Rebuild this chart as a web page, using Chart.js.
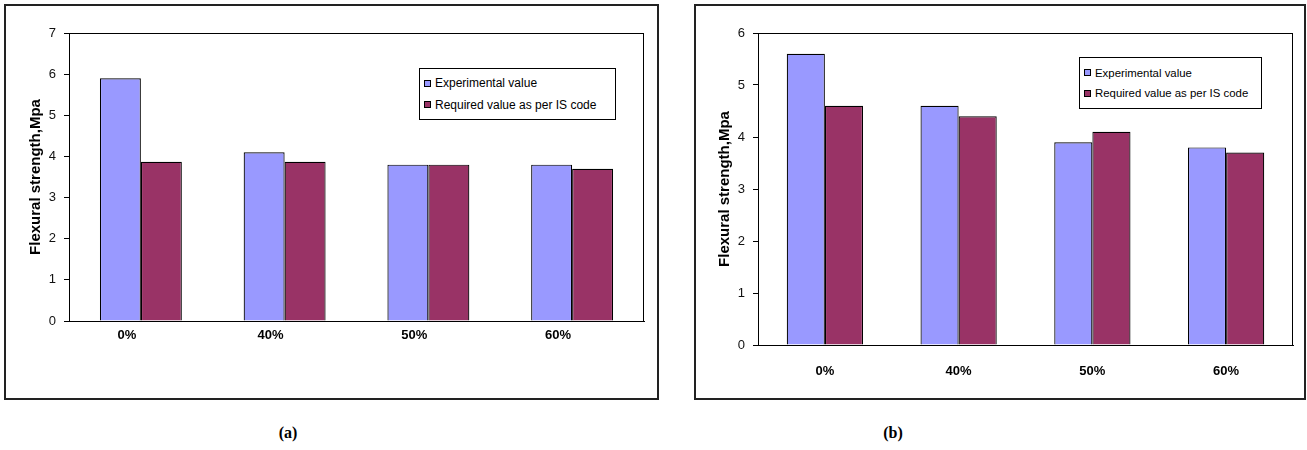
<!DOCTYPE html>
<html>
<head>
<meta charset="utf-8">
<script src="https://cdn.jsdelivr.net/npm/chart.js@4.4.1/dist/chart.umd.min.js"></script>
<style>
  body { margin: 0; background: #fff; width: 1307px; height: 450px; position: relative; overflow: hidden;
         font-family: 'Liberation Sans', Arial, sans-serif; }
  .frame { position: absolute; border: 2px solid #222; box-sizing: border-box; }
  canvas { position: absolute; }
  .legend { position: absolute; border: 1px solid #000; background: #fff; box-sizing: border-box;
            font-size: 12px; color: #000; padding: 0 4px; }
  .legend .item { display: flex; align-items: center; white-space: nowrap; }
  .legend .swatch { width: 7px; height: 7px; border: 1px solid #000; margin-right: 4px; flex: none; box-sizing: border-box; }
  .caption { position: absolute; font-family: 'Liberation Serif', 'Times New Roman', serif; font-weight: bold;
             font-size: 16px; top: 424px; transform: translateX(-50%); }
</style>
</head>
<body>
<div class="frame" style="left:4px; top:4px; width:655px; height:396px;"></div>
<div class="frame" style="left:694px; top:4px; width:612px; height:396px;"></div>
<canvas id="chart-a" width="650" height="391" style="left:6px; top:6px;"></canvas>
<canvas id="chart-b" width="606" height="391" style="left:697px; top:6px;"></canvas>
<div class="legend" id="legend-a" style="left:419px; top:68px; width:197px; height:52px;"></div>
<div class="legend" id="legend-b" style="left:1079px; top:57px; width:183px; height:52px; font-size:11.4px;"></div>
<div class="caption" style="left:288px;">(a)</div>
<div class="caption" style="left:893px;">(b)</div>
<script>
// Data
const categories = ['0%', '40%', '50%', '60%'];
const seriesNames = ['Experimental value', 'Required value as per IS code'];
const seriesColors = ['#9999FF', '#993366'];

// (a)
const experimentalA = [5.9, 4.1, 3.8, 3.8];
const requiredA = [3.87, 3.87, 3.8, 3.7];
const yMaxA = 7;

// (b)
const experimentalB = [5.6, 4.6, 3.9, 3.8];
const requiredB = [4.6, 4.4, 4.1, 3.7];
const yMaxB = 6;

const yTitle = 'Flexural strength,Mpa';

Chart.defaults.font.family = "'Liberation Sans', Arial, sans-serif";
Chart.defaults.color = '#000';

// Draws the thin box round the plot area (top and right sides)
const plotBorder = {
    id: 'plotBorder',
    afterDraw(chart) {
        const { ctx, chartArea: a } = chart;
        ctx.save();
        ctx.strokeStyle = '#000';
        ctx.lineWidth = 1;
        ctx.strokeRect(a.left + 0.5, a.top + 0.5, a.right - a.left - 1, a.bottom - a.top);
        ctx.restore();
    }
};

const makeChart = (id, expVals, reqVals, yMax, cfg) => {
    const canvas = document.getElementById(id);
    return new Chart(canvas.getContext('2d'), {
        type: 'bar',
        data: {
            labels: categories,
            datasets: [
                { label: seriesNames[0], data: expVals, backgroundColor: seriesColors[0],
                  borderColor: '#000', borderWidth: 1.2 },
                { label: seriesNames[1], data: reqVals, backgroundColor: seriesColors[1],
                  borderColor: '#000', borderWidth: 1.2 }
            ]
        },
        options: {
            responsive: false,
            animation: false,
            devicePixelRatio: 1,
            layout: { padding: { left: 0, top: 27, right: cfg.padRight, bottom: 0 } },
            datasets: { bar: { categoryPercentage: 0.57, barPercentage: 1 } },
            plugins: { legend: { display: false }, tooltip: { enabled: false } },
            scales: {
                x: {
                    grid: { drawOnChartArea: false, drawTicks: false },
                    border: { color: '#000', width: 1 },
                    ticks: { font: { size: 13, weight: 'bold' }, padding: cfg.xPad,
                             maxRotation: 0, labelOffset: cfg.labelOffset },
                    afterFit: (scale) => { scale.height = cfg.xHeight; }
                },
                y: {
                    min: 0,
                    max: yMax,
                    ticks: { stepSize: 1, font: { size: 13 }, padding: 8, color: '#111' },
                    grid: { drawOnChartArea: false, tickLength: 5, color: '#000' },
                    border: { color: '#000', width: 1 },
                    title: { display: true, text: yTitle, font: { size: cfg.titleSize, weight: 'bold' },
                             padding: { top: cfg.titlePad, bottom: 0 } },
                    afterFit: (scale) => { scale.width = cfg.yWidth; }
                }
            }
        },
        plugins: [plotBorder]
    });
};

makeChart('chart-a', experimentalA, requiredA, yMaxA,
    { padRight: 12, xHeight: 76, yWidth: 63, xPad: 7, labelOffset: -14, titleSize: 15, titlePad: 21 });
makeChart('chart-b', experimentalB, requiredB, yMaxB,
    { padRight: 10, xHeight: 52, yWidth: 61, xPad: 19, labelOffset: 0, titleSize: 15, titlePad: 19 });

// HTML legends
const buildLegend = (id) => {
    const box = document.getElementById(id);
    box.style.display = 'flex';
    box.style.flexDirection = 'column';
    box.style.justifyContent = 'space-evenly';
    seriesNames.forEach((name, i) => {
        const item = document.createElement('div');
        item.className = 'item';
        const sw = document.createElement('span');
        sw.className = 'swatch';
        sw.style.background = seriesColors[i];
        const txt = document.createElement('span');
        txt.textContent = name;
        item.appendChild(sw);
        item.appendChild(txt);
        box.appendChild(item);
    });
};
buildLegend('legend-a');
buildLegend('legend-b');
</script>
</body>
</html>
